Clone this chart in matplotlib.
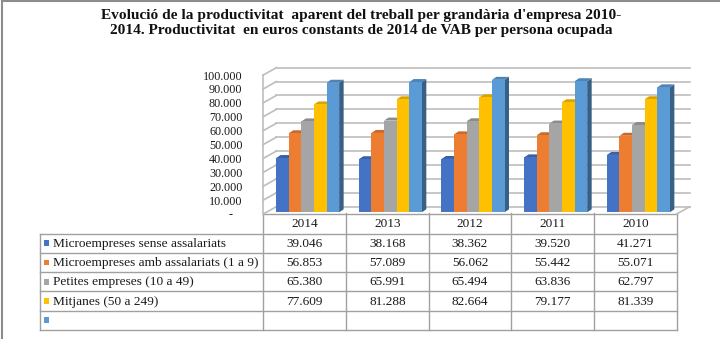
import matplotlib
matplotlib.use("Agg")
import matplotlib.pyplot as plt
import numpy as np
from matplotlib.patches import Polygon, Rectangle
from matplotlib.lines import Line2D

# ---- data -------------------------------------------------------------
years = ["2014", "2013", "2012", "2011", "2010"]
series_names = [
    "Microempreses sense assalariats",
    "Microempreses amb assalariats (1 a 9)",
    "Petites empreses (10 a 49)",
    "Mitjanes (50 a 249)",
    "",
]
micro_sense = [39046, 38168, 38362, 39520, 41271]
micro_amb = [56853, 57089, 56062, 55442, 55071]
petites = [65380, 65991, 65494, 63836, 62797]
mitjanes = [77609, 81288, 82664, 79177, 81339]
cinquena = [93200, 93700, 95300, 94300, 89900]
row_in_table = [True, True, True, True, False]
y_ticks = [0, 10000, 20000, 30000, 40000, 50000, 60000, 70000, 80000, 90000, 100000]

title = ("Evolució de la productivitat  aparent del treball per grandària d'empresa 2010-\n"
         "2014. Productivitat  en euros constants de 2014 de VAB per persona ocupada")

series_values = [micro_sense, micro_amb, petites, mitjanes, cinquena]
colors = ["#4472C4", "#ED7D31", "#A5A5A5", "#FFC000", "#5B9BD5"]

SERIF = ["Liberation Serif", "DejaVu Serif"]


def fmt(v):
    return f"{v:,.0f}".replace(",", ".")


def shade(c, f):
    rgb = np.array(matplotlib.colors.to_rgb(c))
    return tuple(np.clip(rgb * f, 0, 1))


# ---- layout (pixels) --------------------------------------------------
W, H = 720, 339
plot_left, plot_right = 263.3, 676.7
y_zero, y_top = 214.0, 75.0
table_left = 40.0
row_edges = [233.5, 252.8, 272.1, 291.4, 310.7, 330.0]

fig = plt.figure(figsize=(W / 100, H / 100), dpi=100)

# whole-figure canvas in pixel units (y downwards)
cv = fig.add_axes([0, 0, 1, 1])
cv.set_xlim(0, W)
cv.set_ylim(H, 0)
cv.axis("off")

# chart axes: categories on x, value on y (front plane of the 3D box)
ax = fig.add_axes([plot_left / W, 1 - y_zero / H,
                   (plot_right - plot_left) / W, (y_zero - y_top) / H])
ax.set_xlim(-0.5, len(years) - 0.5)
ax.set_ylim(0, 100000)
for s in ax.spines.values():
    s.set_visible(False)
ax.set_xticks([])
ax.set_yticks(y_ticks)
ax.set_yticklabels([fmt(t) if t else "-   " for t in y_ticks])
ax.tick_params(axis="y", length=0, pad=15)
for lab in ax.get_yticklabels():
    lab.set_fontfamily(SERIF)
    lab.set_fontsize(8.7)
    lab.set_color("#1a1a1a")
ax.patch.set_visible(False)

cat_px = (plot_right - plot_left) / len(years)
val_px = (y_zero - y_top) / 100000.0


def px_to_data(dx, dy):
    return dx / cat_px, dy / val_px


# depth of the box (back wall) and of each bar
box_dx, box_dy = px_to_data(13, 7.3)
bar_off_x, bar_off_y = px_to_data(3, 1.7)
bar_dx, bar_dy = px_to_data(4.5, 3.0)

grid_c = "#bdbdbd"
x0, x1 = -0.5, len(years) - 0.5
for t in y_ticks:
    ax.add_line(Line2D([x0 + box_dx, x1 + box_dx], [t + box_dy, t + box_dy],
                       color=grid_c, lw=1.2, zorder=1, clip_on=False))
    ax.add_line(Line2D([x0, x0 + box_dx], [t, t + box_dy],
                       color=grid_c, lw=1.2, zorder=1, clip_on=False))
ax.add_line(Line2D([x0, x0], [0, 100000], color=grid_c, lw=1.2, zorder=1, clip_on=False))
ax.add_line(Line2D([x1, x1 + box_dx], [0, box_dy], color=grid_c, lw=1.2, zorder=1, clip_on=False))

# bars
n = len(series_values)
group = 0.762
bw = group / n
xs = np.arange(len(years))
for i, (vals, c) in enumerate(zip(series_values, colors)):
    xpos = xs - group / 2 + bw * (i + 0.5) + bar_off_x
    for j, (x, v) in enumerate(zip(xpos, vals)):
        z = 3 + i * 3
        ax.bar(x, v, width=bw, bottom=bar_off_y, color=c, zorder=z,
               linewidth=0, clip_on=False)
        top = bar_off_y + v
        side = [(x + bw / 2, bar_off_y), (x + bw / 2 + bar_dx, bar_off_y + bar_dy),
                (x + bw / 2 + bar_dx, top + bar_dy), (x + bw / 2, top)]
        ax.add_patch(Polygon(side, closed=True, color=shade(c, 0.62), lw=0,
                             zorder=z - 0.5, clip_on=False))
        cap = [(x - bw / 2, top), (x + bw / 2, top),
               (x + bw / 2 + bar_dx, top + bar_dy), (x - bw / 2 + bar_dx, top + bar_dy)]
        ax.add_patch(Polygon(cap, closed=True, color=shade(c, 0.85), lw=0,
                             zorder=z - 0.5, clip_on=False))

# ---- data table ---------------------------------------------------------
line_c = "#a0a0a0"
col_edges = np.linspace(plot_left, plot_right, len(years) + 1)
for y in row_edges:
    cv.plot([table_left, plot_right], [y, y], color=line_c, lw=1.0)
cv.plot([plot_left, plot_right], [y_zero, y_zero], color=line_c, lw=1.0)
cv.plot([table_left, table_left], [row_edges[0], row_edges[-1]], color=line_c, lw=1.0)
for x in col_edges:
    cv.plot([x, x], [y_zero - 1.5, row_edges[-1]], color=line_c, lw=1.0)

col_centers = (col_edges[:-1] + col_edges[1:]) / 2
for x, yr in zip(col_centers, years):
    cv.text(x, (y_zero + row_edges[0]) / 2 + 0.5, yr, ha="center", va="center",
            fontsize=9.5, family=SERIF, color="#1a1a1a")

for r, (name, vals, c, shown) in enumerate(zip(series_names, series_values, colors, row_in_table)):
    yc = (row_edges[r] + row_edges[r + 1]) / 2
    cv.add_patch(Rectangle((43.6, yc - 2.9), 5.7, 5.7, color=c, lw=0))
    cv.text(53, yc + 0.5, name, ha="left", va="center", fontsize=9.6,
            family=SERIF, color="#1a1a1a")
    if shown:
        for x, v in zip(col_centers, vals):
            cv.text(x, yc + 0.5, fmt(v), ha="center", va="center", fontsize=9.5,
                    family=SERIF, color="#1a1a1a")

# outer frame
cv.plot([1.5, 1.5], [1, H], color="#8c8c8c", lw=1.5)
cv.plot([1.5, W], [1, 1], color="#8c8c8c", lw=1.5)

# title
fig.text(361 / W, 1 - 23 / H, title, ha="center", va="center", fontsize=11.1,
         fontweight="bold", family=SERIF, linespacing=1.22, color="#111111")

fig.savefig("out.png", dpi=100)
